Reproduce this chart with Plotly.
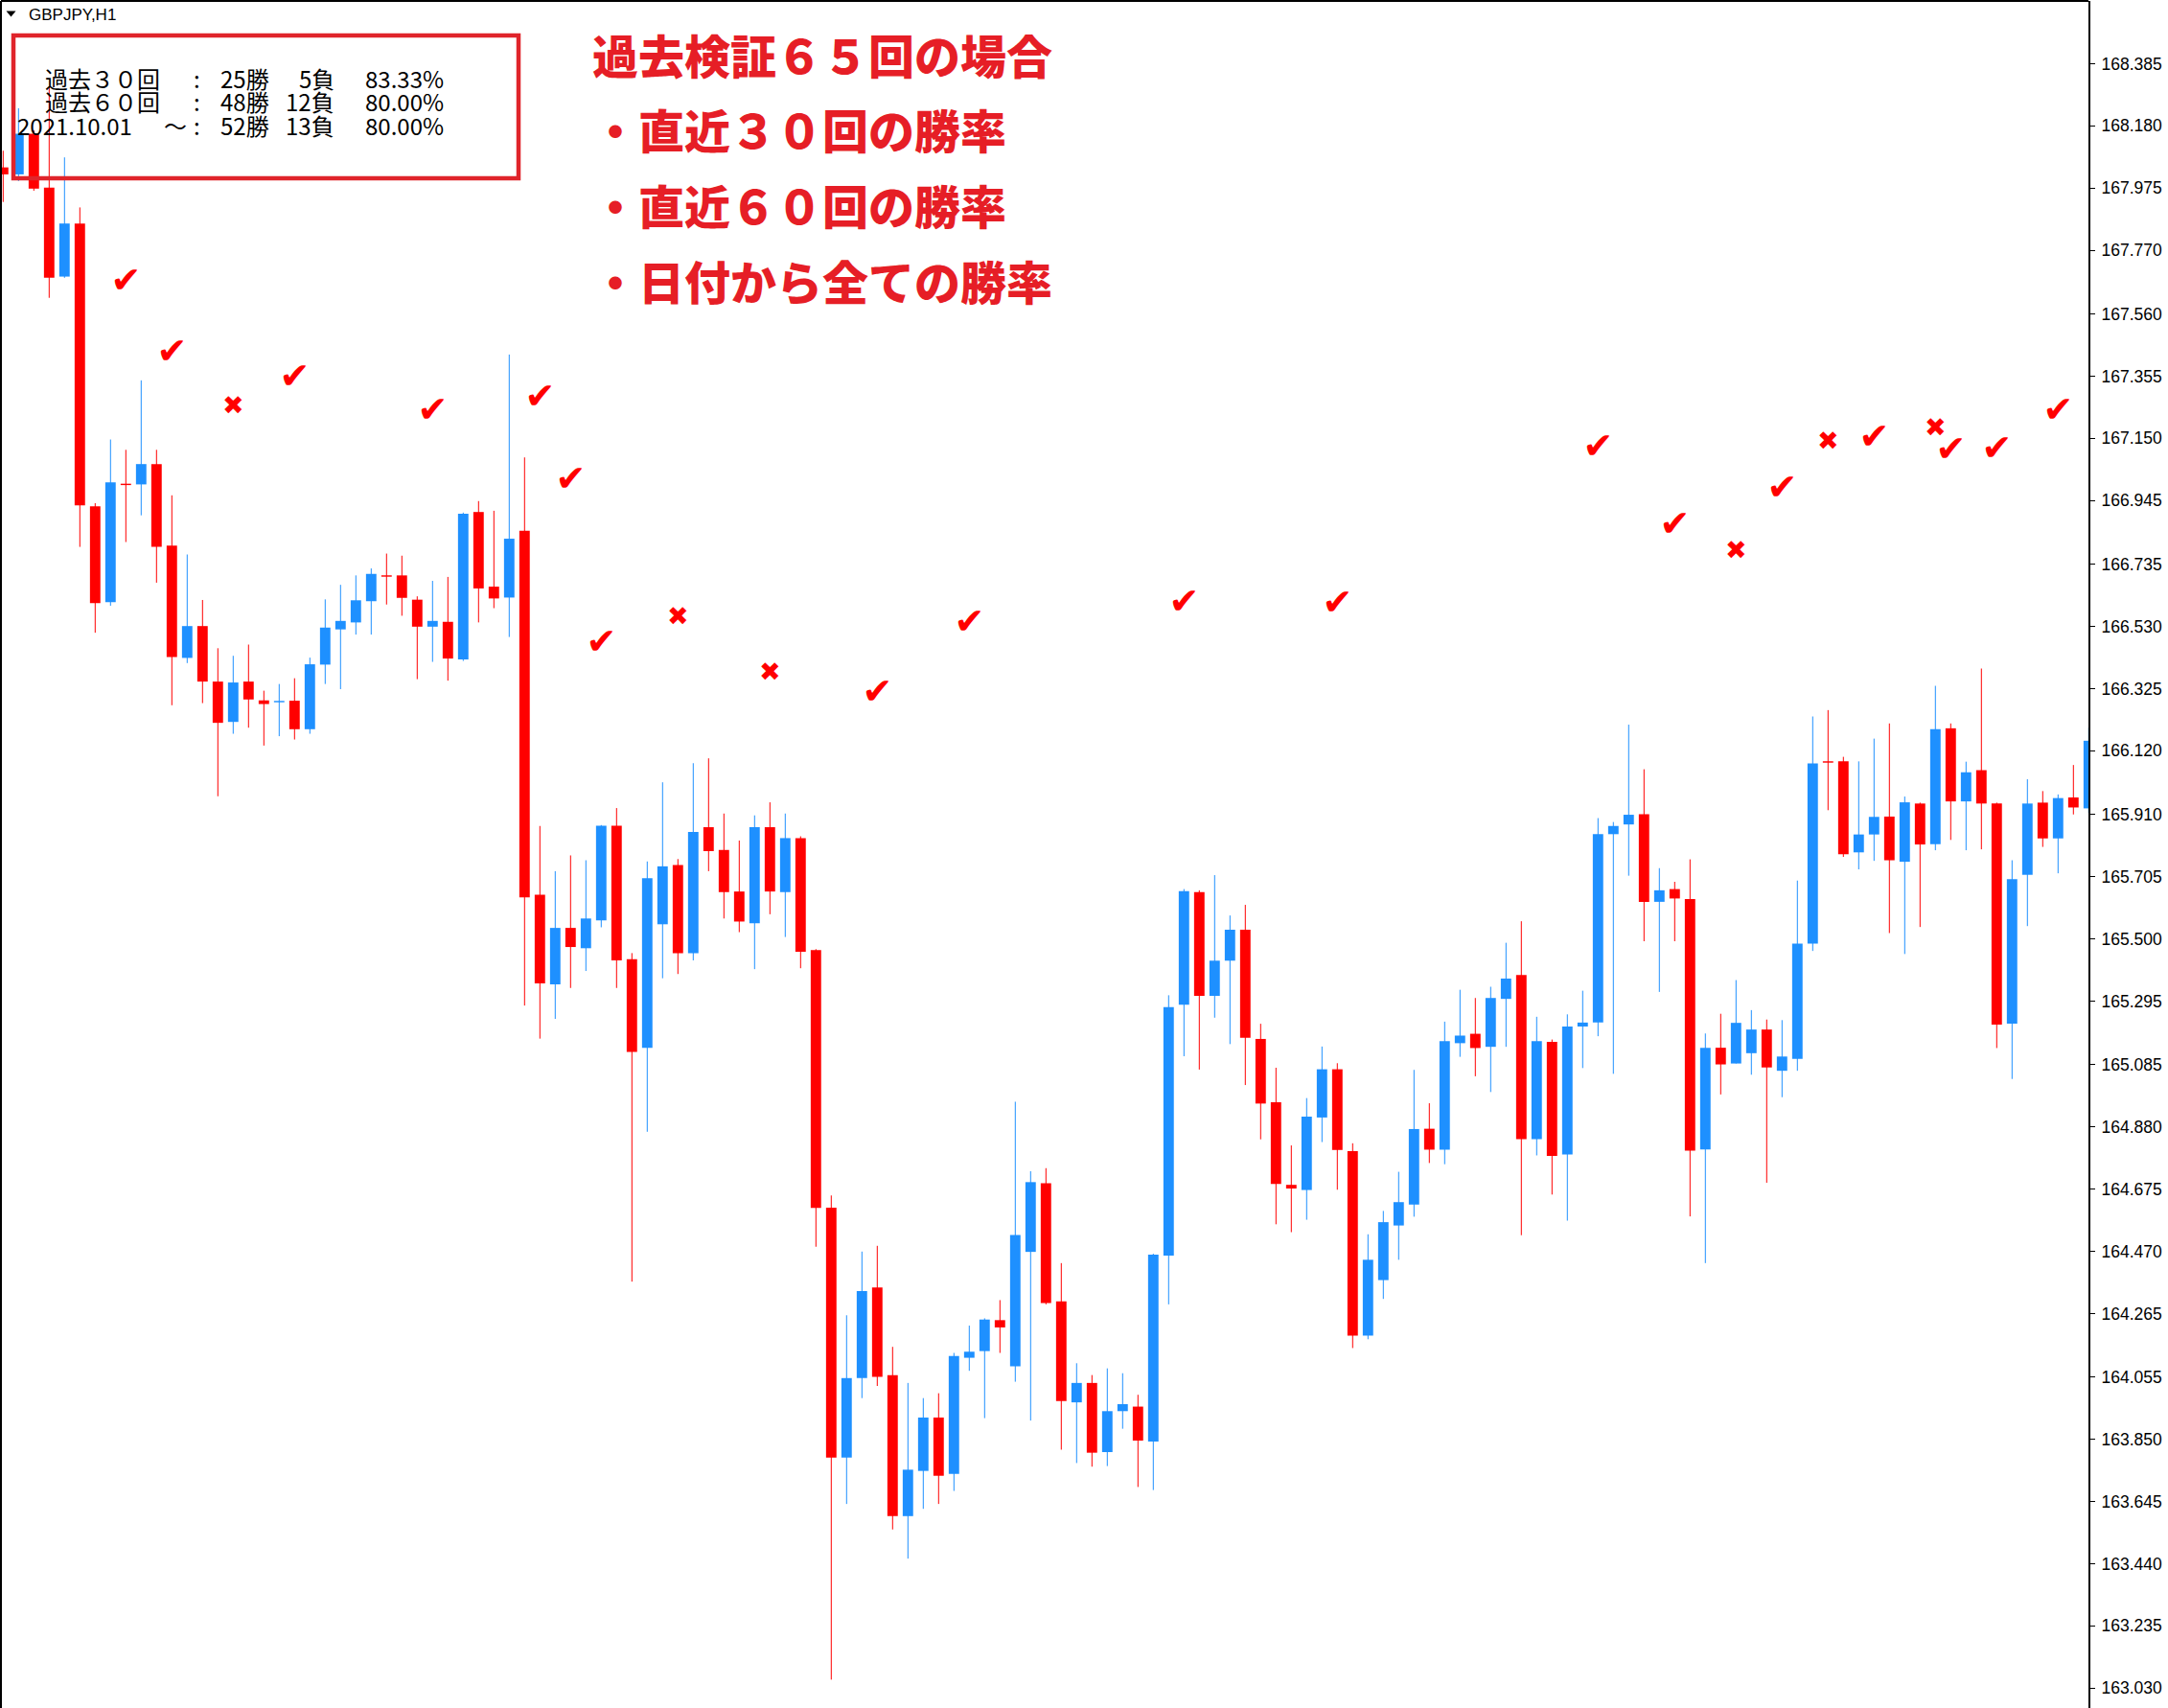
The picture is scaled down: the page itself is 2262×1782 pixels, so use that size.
import plotly.graph_objects as go

# ---------------- data ----------------
opens = [168.043, 168.020, 168.154, 167.976, 167.683, 167.858, 166.926, 166.610, 167.000, 166.998,
         167.065, 166.796, 166.426, 166.531, 166.348, 166.215, 166.348, 166.286, 166.280, 166.285,
         166.191, 166.404, 166.520, 166.543, 166.613, 166.697, 166.698, 166.618, 166.529, 166.545,
         166.421, 166.907, 166.661, 166.625, 166.845, 165.645, 165.350, 165.536, 165.469, 165.561,
         165.873, 165.433, 165.141, 165.548, 165.743, 165.453, 165.868, 165.793, 165.656, 165.551,
         165.868, 165.654, 165.832, 165.463, 164.614, 163.790, 164.052, 164.351, 164.062, 163.597,
         163.746, 163.922, 163.736, 164.119, 164.141, 164.243, 164.091, 164.468, 164.694, 164.305,
         163.972, 164.036, 163.808, 163.943, 163.958, 163.843, 164.456, 165.283, 165.654, 165.312,
         165.428, 165.530, 165.170, 164.961, 164.689, 164.672, 164.911, 165.070, 164.800, 164.192,
         164.375, 164.555, 164.624, 164.874, 164.805, 165.156, 165.187, 165.144, 165.302, 165.381,
         164.840, 165.160, 164.789, 165.211, 165.224, 165.845, 165.877, 165.911, 165.622, 165.664,
         165.631, 164.806, 165.141, 165.089, 165.123, 165.201, 165.065, 165.104, 165.484, 166.085,
         166.085, 165.785, 165.844, 165.903, 165.754, 165.946, 165.812, 166.194, 165.953, 166.056,
         165.946, 165.220, 165.711, 165.949, 165.831, 165.966, 165.930]
highs = [168.098, 168.238, 168.165, 168.310, 168.076, 167.911, 166.936, 167.146, 167.112, 167.341,
         167.112, 166.962, 166.767, 166.617, 166.458, 166.433, 166.470, 166.318, 166.340, 166.359,
         166.427, 166.619, 166.667, 166.698, 166.721, 166.770, 166.763, 166.629, 166.680, 166.693,
         166.905, 166.943, 166.911, 167.426, 167.087, 165.872, 165.723, 165.775, 165.759, 165.875,
         165.931, 165.453, 165.755, 166.016, 165.763, 166.079, 166.095, 165.913, 165.824, 165.907,
         165.950, 165.913, 165.838, 165.466, 164.654, 164.259, 164.469, 164.488, 164.155, 164.036,
         163.986, 164.002, 164.135, 164.225, 164.249, 164.309, 164.963, 164.734, 164.744, 164.431,
         164.101, 164.062, 164.084, 164.068, 163.997, 164.462, 165.314, 165.664, 165.660, 165.710,
         165.577, 165.612, 165.220, 165.075, 164.819, 164.975, 165.145, 165.090, 164.826, 164.526,
         164.603, 164.732, 165.068, 164.958, 165.227, 165.332, 165.305, 165.342, 165.487, 165.558,
         165.243, 165.168, 165.251, 165.329, 165.898, 165.885, 166.206, 166.059, 165.733, 165.688,
         165.762, 165.188, 165.253, 165.364, 165.265, 165.234, 165.232, 165.692, 166.233, 166.254,
         166.100, 166.085, 166.160, 166.210, 165.969, 165.949, 166.334, 166.210, 166.084, 166.391,
         165.949, 165.759, 166.026, 165.987, 165.976, 166.073, 166.196]
lows = [167.929, 167.998, 167.966, 167.613, 167.679, 166.792, 166.509, 166.598, 166.808, 166.896,
        166.674, 166.270, 166.409, 166.277, 165.970, 166.176, 166.196, 166.137, 166.168, 166.157,
        166.176, 166.340, 166.323, 166.503, 166.503, 166.602, 166.565, 166.356, 166.413, 166.351,
        166.416, 166.543, 166.590, 166.495, 165.280, 165.171, 165.236, 165.338, 165.394, 165.538,
        165.338, 164.370, 164.864, 165.370, 165.384, 165.429, 165.723, 165.567, 165.522, 165.400,
        165.581, 165.506, 165.403, 164.485, 163.058, 163.637, 163.986, 164.026, 163.553, 163.457,
        163.621, 163.637, 163.680, 164.076, 163.920, 164.135, 164.040, 163.912, 164.295, 163.816,
        163.772, 163.760, 163.762, 163.885, 163.693, 163.683, 164.295, 165.113, 165.069, 165.240,
        165.153, 165.018, 164.839, 164.559, 164.533, 164.574, 164.830, 164.673, 164.151, 164.180,
        164.313, 164.442, 164.584, 164.761, 164.757, 165.111, 165.047, 164.995, 165.144, 164.523,
        164.786, 164.657, 164.571, 165.074, 165.179, 165.055, 165.708, 165.492, 165.325, 165.492,
        164.585, 164.431, 164.987, 165.089, 165.052, 164.696, 164.978, 165.065, 165.460, 165.924,
        165.770, 165.729, 165.757, 165.519, 165.450, 165.539, 165.792, 165.826, 165.792, 165.795,
        165.140, 165.038, 165.542, 165.803, 165.716, 165.910, 165.915]
closes = [168.020, 168.154, 167.973, 167.679, 167.858, 166.929, 166.607, 167.005, 166.996, 167.065,
          166.792, 166.429, 166.531, 166.348, 166.212, 166.345, 166.289, 166.274, 166.284, 166.191,
          166.405, 166.526, 166.548, 166.616, 166.703, 166.695, 166.624, 166.529, 166.548, 166.424,
          166.901, 166.655, 166.622, 166.819, 165.637, 165.353, 165.536, 165.473, 165.567, 165.873,
          165.429, 165.127, 165.700, 165.739, 165.453, 165.852, 165.789, 165.654, 165.557, 165.868,
          165.656, 165.832, 165.457, 164.613, 163.790, 164.052, 164.339, 164.056, 163.597, 163.750,
          163.922, 163.730, 164.125, 164.139, 164.245, 164.219, 164.524, 164.698, 164.299, 163.976,
          164.036, 163.806, 163.943, 163.966, 163.846, 164.459, 165.275, 165.657, 165.312, 165.428,
          165.530, 165.174, 164.957, 164.692, 164.677, 164.914, 165.070, 164.804, 164.192, 164.442,
          164.566, 164.632, 164.873, 164.805, 165.163, 165.181, 165.140, 165.305, 165.369, 164.840,
          165.163, 164.784, 165.211, 165.224, 165.845, 165.872, 165.909, 165.622, 165.660, 165.633,
          164.802, 165.141, 165.086, 165.223, 165.201, 165.076, 165.112, 165.484, 166.078, 166.081,
          165.779, 165.844, 165.902, 165.759, 165.950, 165.811, 166.191, 165.953, 166.049, 165.946,
          165.217, 165.697, 165.946, 165.831, 165.964, 165.933, 166.153]

tick_vals = [168.385, 168.180, 167.975, 167.770, 167.560, 167.355, 167.150, 166.945, 166.735,
             166.530, 166.325, 166.120, 165.910, 165.705, 165.500, 165.295, 165.085, 164.880,
             164.675, 164.470, 164.265, 164.055, 163.850, 163.645, 163.440, 163.235, 163.030]
tick_text = ["%.3f" % v for v in tick_vals]

mark_idx = [8, 11, 15, 19, 28, 35, 37, 39, 44, 50, 57, 63, 77, 87, 104, 109, 113, 116, 119, 122,
            126, 127, 130, 134]
mark_price = [167.660, 167.426, 167.250, 167.344, 167.234, 167.278, 167.006, 166.470, 166.557,
              166.374, 166.307, 166.535, 166.603, 166.598, 167.114, 166.860, 166.775, 166.980,
              167.133, 167.145, 167.179, 167.104, 167.107, 167.234]
mark_kind = ["ok", "ok", "ng", "ok", "ok", "ok", "ok", "ok", "ng", "ng", "ok", "ok", "ok", "ok",
             "ok", "ok", "ng", "ok", "ng", "ok", "ng", "ok", "ok", "ok"]

symbol_label = "GBPJPY,H1"
headline_lines = ["過去検証６５回の場合", "・直近３０回の勝率", "・直近６０回の勝率", "・日付から全ての勝率"]
stat_labels = ["過去３０回", "過去６０回", "2021.10.01"]
stat_wins = ["25勝", "48勝", "52勝"]
stat_losses = ["5負", "12負", "13負"]
stat_rates = ["83.33%", "80.00%", "80.00%"]

# ---------------- geometry ----------------
W, H = 2262, 1782
ML, MT, MR, MB = 1, 1, 83, 0
PW, PH = W - ML - MR, H - MT - MB

def px(x):
    return (x - ML) / PW

def py(y):
    return 1 - (y - MT) / PH

RED = "#FF0000"
BLUE = "#1E90FF"
TXT_RED = "#E61E26"
MIN_BODY = 0.0045
BODY_W = 0.68

idx = list(range(len(opens)))
groups = {"up": [i for i in idx if closes[i] > opens[i]],
          "down": [i for i in idx if closes[i] <= opens[i]]}

fig = go.Figure()

for key, color in (("down", RED), ("up", BLUE)):
    sel = groups[key]
    wx, wy = [], []
    for i in sel:
        wx += [i, i, None]
        wy += [lows[i], highs[i], None]
    fig.add_trace(go.Scatter(x=wx, y=wy, mode="lines", line=dict(color=color, width=1),
                             hoverinfo="skip", showlegend=False))

for key, color in (("down", RED), ("up", BLUE)):
    sel = groups[key]
    hts, bases = [], []
    for i in sel:
        h = abs(closes[i] - opens[i])
        mid = (closes[i] + opens[i]) / 2
        hh = max(h, MIN_BODY)
        hts.append(hh)
        bases.append(mid - hh / 2)
    fig.add_trace(go.Bar(x=sel, y=hts, base=bases, width=BODY_W,
                         marker=dict(color=color, line=dict(width=0)),
                         hoverinfo="skip", showlegend=False))

ok_x = [mark_idx[k] for k in range(len(mark_idx)) if mark_kind[k] == "ok"]
ok_y = [mark_price[k] for k in range(len(mark_idx)) if mark_kind[k] == "ok"]
ng_x = [mark_idx[k] for k in range(len(mark_idx)) if mark_kind[k] == "ng"]
ng_y = [mark_price[k] for k in range(len(mark_idx)) if mark_kind[k] == "ng"]
fig.add_trace(go.Scatter(x=ok_x, y=ok_y, mode="text", text=["✔"] * len(ok_x),
                         textposition="middle center",
                         textfont=dict(family="DejaVu Sans", size=38, color=RED),
                         hoverinfo="skip", showlegend=False))
fig.add_trace(go.Scatter(x=ng_x, y=ng_y, mode="text", text=["✖"] * len(ng_x),
                         textposition="middle center",
                         textfont=dict(family="DejaVu Sans", size=27, color=RED),
                         hoverinfo="skip", showlegend=False))

# axis ranges mapping candle index / price to pixels
x_lo = (ML - 3.3) / 16.0
x_hi = (ML + PW - 3.3) / 16.0
ppu = 316.5
y_hi = 168.385 + (66.4 - MT) / ppu
y_lo = y_hi - PH / ppu

fig.update_layout(
    width=W, height=H,
    margin=dict(l=ML, r=MR, t=MT, b=MB, pad=0),
    paper_bgcolor="white", plot_bgcolor="white",
    barmode="overlay", hovermode=False, showlegend=False,
    xaxis=dict(range=[x_lo, x_hi], showgrid=False, zeroline=False, showticklabels=False,
               ticks="", showline=False, fixedrange=True),
    yaxis=dict(range=[y_lo, y_hi], side="right", showgrid=False, zeroline=False,
               showline=True, linecolor="black", linewidth=2,
               ticks="outside", ticklen=5, tickwidth=1, tickcolor="black",
               tickvals=tick_vals, ticktext=tick_text, ticklabelstandoff=3,
               tickfont=dict(family="Liberation Sans", size=17.5, color="black"),
               fixedrange=True),
)

shapes = [
    dict(type="line", xref="paper", yref="paper", x0=0, x1=0, y0=0, y1=1,
         line=dict(color="black", width=2)),
    dict(type="line", xref="paper", yref="paper", x0=0, x1=1, y0=1, y1=1,
         line=dict(color="black", width=2)),
    dict(type="rect", xref="paper", yref="paper", x0=px(14), x1=px(541), y0=py(186), y1=py(37),
         line=dict(color="#E0242B", width=4.5), fillcolor="rgba(0,0,0,0)"),
    dict(type="path", xref="paper", yref="paper",
         path="M %f,%f L %f,%f L %f,%f Z" % (px(6.5), py(11.5), px(16.5), py(11.5), px(11.5), py(17.5)),
         fillcolor="black", line=dict(color="black", width=0)),
]
fig.update_layout(shapes=shapes)

ann = []
ann.append(dict(x=px(28), y=py(15.5), text=symbol_label, xanchor="left", yanchor="middle",
                font=dict(family="Liberation Sans", size=17, color="black")))

head_y = [56, 134, 213, 292]
for k, line in enumerate(headline_lines):
    ann.append(dict(x=px(616), y=py(head_y[k]), text=line, xanchor="left", yanchor="middle",
                    font=dict(family="Noto Sans CJK JP", size=48, color=TXT_RED, weight=900)))

stat_y = [81, 105, 130]
sfont = dict(family="Noto Sans CJK JP", size=24, color="black")
for k in range(3):
    yy = py(stat_y[k])
    if k < 2:
        ann.append(dict(x=px(45), y=yy, text=stat_labels[k], xanchor="left", yanchor="middle", font=sfont))
    else:
        ann.append(dict(x=px(16), y=yy, text=stat_labels[k], xanchor="left", yanchor="middle", font=sfont))
        ann.append(dict(x=px(183), y=yy, text="～", xanchor="center", yanchor="middle", font=sfont))
    ann.append(dict(x=px(205), y=yy, text=":", xanchor="center", yanchor="middle", font=sfont))
    ann.append(dict(x=px(283), y=yy, text=stat_wins[k], xanchor="right", yanchor="middle", font=sfont))
    ann.append(dict(x=px(351), y=yy, text=stat_losses[k], xanchor="right", yanchor="middle", font=sfont))
    ann.append(dict(x=px(465), y=yy, text=stat_rates[k], xanchor="right", yanchor="middle", font=sfont))

for a in ann:
    a.update(xref="paper", yref="paper", showarrow=False)
fig.update_layout(annotations=ann)

fig.write_html("out.html",
               config={"displayModeBar": False, "staticPlot": True},
               post_script="document.body.style.margin='0px';document.body.style.padding='0px';"
                           "document.documentElement.style.overflow='hidden';")
